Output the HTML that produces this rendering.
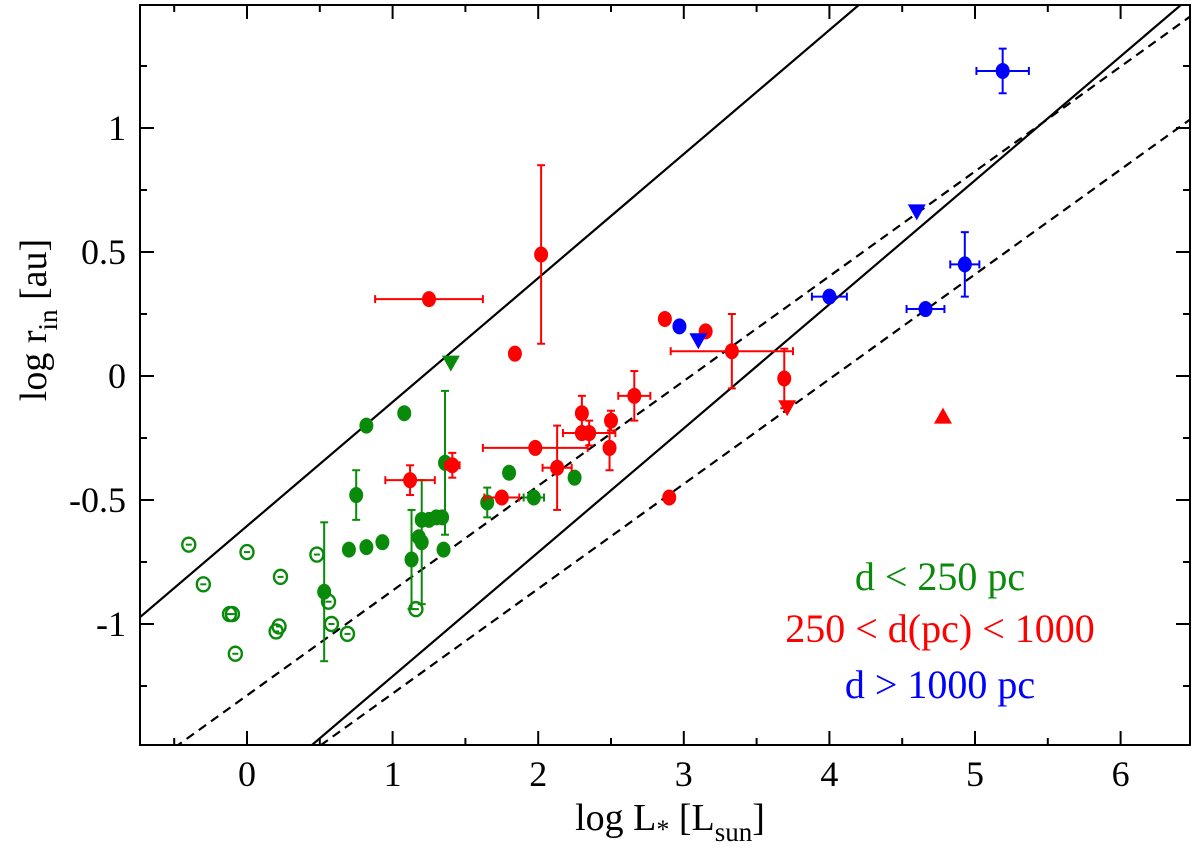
<!DOCTYPE html>
<html><head><meta charset="utf-8"><style>
html,body{margin:0;padding:0;background:#fff;overflow:hidden;width:1200px;height:852px;}
svg{display:block;font-family:"Liberation Serif",serif;}
</style></head><body>
<svg id="chart" width="1200" height="852" viewBox="0 0 1200 852" xmlns="http://www.w3.org/2000/svg"></svg>
<script>
const xTicks=[0,1,2,3,4,5,6];
const yTicks=[-1,-0.5,0,0.5,1];
const yTickLabels=["-1","-0.5","0","0.5","1"];
// [logL, logr, xerr, yerrUp, yerrDown]
const greenFilled=[[0.82,-0.20,0,0,0],[1.08,-0.15,0,0.02,0.02],[0.75,-0.48,0,0.1,0.1],[0.70,-0.70,0,0,0],[0.82,-0.69,0,0,0],[0.93,-0.67,0,0.02,0.02],[1.20,-0.58,0,0,0],[1.25,-0.58,0,0,0],[1.30,-0.57,0,0,0],[1.34,-0.57,0,0,0],[1.13,-0.74,0,0.2,0.2],[1.18,-0.65,0,0,0],[1.20,-0.67,0,0.25,0.25],[1.35,-0.70,0,0,0],[1.36,-0.35,0,0.29,0.29],[1.65,-0.51,0,0.06,0.06],[1.80,-0.39,0,0,0],[1.97,-0.49,0.07,0,0],[2.25,-0.41,0,0,0],[0.53,-0.87,0,0.28,0.28]];
const greenOpen=[[-0.40,-0.68],[-0.30,-0.84],[-0.12,-0.96],[-0.10,-0.96],[-0.08,-1.12],[0.0,-0.71],[0.20,-1.03],[0.22,-1.01],[0.23,-0.81],[0.48,-0.72],[0.56,-0.91],[0.58,-1.00],[0.69,-1.04],[1.16,-0.94]];
const greenUpper=[[1.40,0.05]];
const redFilled=[[1.25,0.31,0.37,0.02,0.02],[2.02,0.49,0,0.36,0.36],[1.84,0.09,0,0,0],[1.12,-0.42,0.17,0.06,0.06],[1.41,-0.36,0.05,0.05,0.05],[1.75,-0.49,0.12,0,0],[1.98,-0.29,0.36,0.02,0.02],[2.13,-0.37,0.1,0.17,0.17],[2.30,-0.15,0,0.07,0.07],[2.30,-0.23,0,0,0],[2.35,-0.23,0.18,0.05,0.05],[2.50,-0.18,0,0.04,0.04],[2.49,-0.29,0,0.09,0.09],[2.66,-0.08,0.11,0.1,0.1],[2.87,0.23,0,0,0],[3.15,0.18,0,0,0],[3.33,0.10,0.42,0.15,0.15],[3.69,-0.01,0,0.12,0.12],[2.90,-0.49,0.03,0,0]];
const redUpper=[[3.71,-0.13]];
const redLower=[[4.78,-0.16]];
const blueFilled=[[2.97,0.20,0,0,0],[4.00,0.32,0.12,0,0],[4.66,0.27,0.13,0,0],[4.93,0.45,0.1,0.13,0.13],[5.19,1.23,0.18,0.09,0.09]];
const blueUpper=[[3.10,0.14],[4.60,0.66]];
const solidOffsets=[-0.605,-1.711];
const dashedOffsets=[[0.4226,-1.288],[0.4226,-1.703]];

const svg=document.getElementById('chart');
const NS='http://www.w3.org/2000/svg';
const L=140,R=1190,T=5,B=745;
const X=v=>247+v*145.6, Y=v=>376-v*248;
function mk(tag,attrs,parent){const e=document.createElementNS(NS,tag);for(const k in attrs)e.setAttribute(k,attrs[k]);(parent||svg).appendChild(e);return e;}
const defs=mk('defs',{});const cp=mk('clipPath',{id:'cp'},defs);mk('rect',{x:L,y:T,width:R-L,height:B-T},cp);
const gl=mk('g',{'clip-path':'url(#cp)'});
solidOffsets.forEach(b=>{const x0=-1,x1=7;const l=mk('line',{x1:X(x0),y1:Y(0.5*x0+b),x2:X(x1),y2:Y(0.5*x1+b),stroke:'#000','stroke-width':2.2},gl);

});
dashedOffsets.forEach(([m,b])=>{const x0=-1,x1=7;const l=mk('line',{x1:X(x0),y1:Y(m*x0+b),x2:X(x1),y2:Y(m*x1+b),stroke:'#000','stroke-width':2.2,'stroke-dasharray':'9,6'},gl);

});
const fr=mk('rect',{x:L,y:T,width:R-L,height:B-T,fill:'none',stroke:'#000','stroke-width':2});


for(let v=-0.5;v<=6.5;v+=0.5){const px=X(v);if(px<L||px>R)continue;const big=Math.abs(v-Math.round(v))<1e-6;const len=big?14:7;
mk('line',{x1:px,y1:B,x2:px,y2:B-len,stroke:'#000','stroke-width':2});mk('line',{x1:px,y1:T,x2:px,y2:T+len,stroke:'#000','stroke-width':2});}
for(let v=-1.25;v<=1.5;v+=0.25){const py=Y(v);if(py<T||py>B)continue;const big=Math.abs(v*2-Math.round(v*2))<1e-6;const len=big?14:7;
mk('line',{x1:L,y1:py,x2:L+len,y2:py,stroke:'#000','stroke-width':2});mk('line',{x1:R,y1:py,x2:R-len,y2:py,stroke:'#000','stroke-width':2});}
xTicks.forEach(v=>{const t=mk('text',{x:X(v),y:786,'font-size':36,'text-anchor':'middle'});t.textContent=v;

});
yTicks.forEach((v,i)=>{const t=mk('text',{x:126,y:Y(v)+12,'font-size':36,'text-anchor':'end'});t.textContent=yTickLabels[i];

});
const xt=mk('text',{x:670,y:830,'font-size':38,'text-anchor':'middle'});xt.innerHTML='log L<tspan font-size="26" dy="8">*</tspan><tspan dy="-8"> [L</tspan><tspan font-size="27" dy="11">sun</tspan><tspan dy="-11">]</tspan>';


const yt=mk('text',{x:0,y:0,'font-size':38,'text-anchor':'middle',transform:'translate(46,320) rotate(-90)'});yt.innerHTML='log r<tspan font-size="27" dy="11">in</tspan><tspan dy="-11"> [au]</tspan>';


const gp=mk('g',{'clip-path':'url(#cp)'});
function errs(d,c){const[x,y,xe,yu,yd]=d;
if(xe){mk('line',{x1:X(x-xe),y1:Y(y),x2:X(x+xe),y2:Y(y),stroke:c,'stroke-width':2},gp);[x-xe,x+xe].forEach(e=>mk('line',{x1:X(e),y1:Y(y)-4,x2:X(e),y2:Y(y)+4,stroke:c,'stroke-width':2},gp));}
if(yu||yd){mk('line',{x1:X(x),y1:Y(y+yu),x2:X(x),y2:Y(y-yd),stroke:c,'stroke-width':2},gp);[y+yu,y-yd].forEach(e=>mk('line',{x1:X(x)-4,y1:Y(e),x2:X(x)+4,y2:Y(e),stroke:c,'stroke-width':2},gp));}}
function filled(arr,c,name){arr.forEach(d=>{errs(d,c);const e=mk('ellipse',{cx:X(d[0]),cy:Y(d[1]),rx:7,ry:8,fill:c},gp);

});}
function tri(arr,c,down,name){arr.forEach(d=>{const x=X(d[0]),y=Y(d[1]);const p=down?`${x-9},${y-8} ${x+9},${y-8} ${x},${y+8}`:`${x-9},${y+8} ${x+9},${y+8} ${x},${y-8}`;
const e=mk('polygon',{points:p,fill:c},gp);

});}
const G='#0a8a0a',Rd='#ff0000',Bl='#0000ff';
greenOpen.forEach(d=>{const e=mk('ellipse',{cx:X(d[0]),cy:Y(d[1]),rx:6.5,ry:7,fill:'none',stroke:G,'stroke-width':2.4},gp);


mk('line',{x1:X(d[0])-3,y1:Y(d[1]),x2:X(d[0])+3,y2:Y(d[1]),stroke:G,'stroke-width':2},gp);});
filled(greenFilled,G,'green-point');tri(greenUpper,G,true,'green-upper-limit');
filled(redFilled,Rd,'red-point');tri(redUpper,Rd,true,'red-upper-limit');tri(redLower,Rd,false,'red-lower-limit');
filled(blueFilled,Bl,'blue-point');tri(blueUpper,Bl,true,'blue-upper-limit');
[['d < 250 pc',G,590,'legend-near'],['250 < d(pc) < 1000',Rd,642,'legend-mid'],['d > 1000 pc',Bl,698,'legend-far']].forEach(([s,c,y,n])=>{
const t=mk('text',{x:940,y:y,'font-size':40,fill:c,'text-anchor':'middle'});t.textContent=s;

});
</script>
</body></html>
